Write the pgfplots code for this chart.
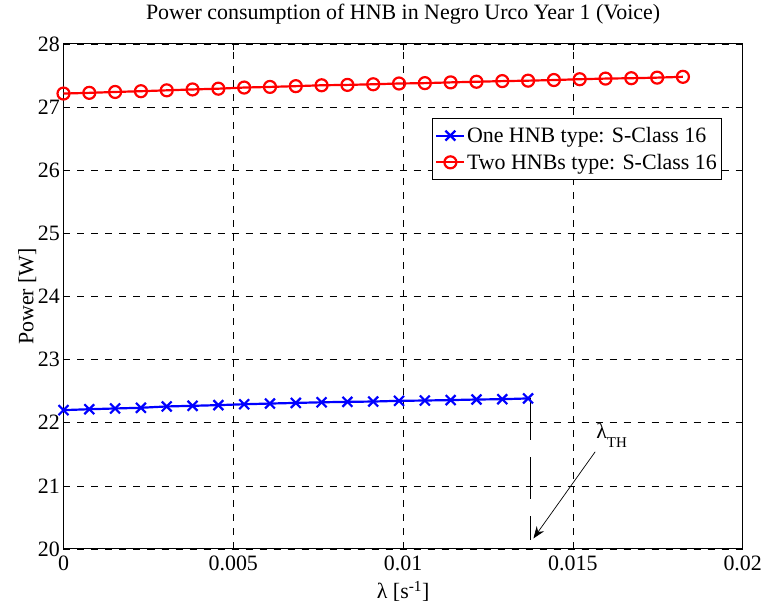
\documentclass[border=0pt]{standalone}
\usepackage{fontspec}
\setmainfont{Liberation Serif}
\usepackage{pgfplots}
\pgfplotsset{compat=1.18}
\usetikzlibrary{arrows.meta}
\definecolor{mblue}{RGB}{0,0,255}
\definecolor{mred}{RGB}{255,0,0}
\begin{document}
\begin{tikzpicture}[font=\fontsize{22}{26}\selectfont]
\begin{axis}[name=ax, scale only axis, width=679.2bp, height=505bp,
  xmin=0, xmax=0.02, ymin=20, ymax=28,
  scaled x ticks=false, scaled y ticks=false,
  xtick={0,0.005,0.01,0.015,0.02}, xticklabels={0,0.005,0.01,0.015,0.02},
  ytick={20,21,22,23,24,25,26,27,28},
  /pgf/number format/assume math mode=true,
  tick align=inside, major tick length=6bp,
  tick style={black, line width=0.6bp},
  axis line style={black, line width=1bp},
  grid=major,
  major grid style={black, line width=0.6bp, dash pattern=on 7bp off 7bp},
  xticklabel style={anchor=base, inner sep=0pt, yshift=-22bp},
  yticklabel style={anchor=east, inner sep=0pt, xshift=-3.5bp},
  title={Power consumption of HNB in Negro Urco Year 1 (Voice)},
  title style={at={(rel axis cs:0.5,1.0376)}, anchor=base, inner sep=0pt},
  xlabel={λ [s\textsuperscript{-1}]},
  xlabel style={at={(rel axis cs:0.5,-0.0990)}, anchor=base, inner sep=0pt},
  ylabel={Power [W]},
  ylabel style={at={(rel axis cs:-0.0442,0.5)}, anchor=base, inner sep=0pt},
  clip=false,
  legend cell align=left,
  legend style={at={(rel axis cs:0.9694,0.8529)}, anchor=north east,
    draw=black, line width=1bp, inner xsep=3bp, inner ysep=7bp,
    nodes={inner sep=1.5bp}, row sep=7bp},
  legend image code/.code={\draw[mark repeat=2,mark phase=2,#1]
    plot coordinates {(0bp,0bp) (14bp,0bp) (28bp,0bp)};},
]
\addplot[mblue, line width=2.2bp, mark=x, mark size=7bp,
  mark options={solid, line width=2.2bp}] coordinates {
(0,22.200) (0.00076,22.214) (0.00152,22.226) (0.00228,22.237) (0.00304,22.258)
(0.0038,22.268) (0.00456,22.279) (0.00532,22.293) (0.00608,22.304) (0.00684,22.314)
(0.0076,22.324) (0.00836,22.331) (0.00912,22.336) (0.00988,22.347) (0.01064,22.352)
(0.0114,22.359) (0.01216,22.368) (0.01292,22.373) (0.01368,22.385)
};
\addlegendentry{One HNB type: S-Class 16}
\addplot[mred, line width=2.2bp, mark=o, mark size=6bp,
  mark options={solid, line width=2.2bp}] coordinates {
(0,27.215) (0.00076,27.226) (0.00152,27.240) (0.00228,27.252) (0.00304,27.266)
(0.0038,27.280) (0.00456,27.292) (0.00532,27.310) (0.00608,27.320) (0.00684,27.332)
(0.0076,27.346) (0.00836,27.352) (0.00912,27.362) (0.00988,27.374) (0.01064,27.380)
(0.0114,27.392) (0.01216,27.402) (0.01292,27.412) (0.01368,27.419) (0.01444,27.429)
(0.0152,27.442) (0.01596,27.452) (0.01672,27.458) (0.01748,27.467) (0.01824,27.480)
};
\addlegendentry{Two HNBs type: S-Class 16}
\addplot[black, line width=0.8bp, dash pattern=on 42bp off 17bp, forget plot]
  coordinates {(0.01375,22.385) (0.01375,20.14)};
\draw[black, line width=0.7bp, -{Stealth[length=12bp,width=9bp,inset=4bp]}]
  (axis cs:0.015655,21.539) -- (axis cs:0.013838,20.167);
\node[anchor=base west, inner sep=0pt] at (axis cs:0.015685,21.756)
  {λ\raisebox{-9bp}{\fontsize{15}{15}\selectfont TH}};
\end{axis}
\pgfresetboundingbox
\path[use as bounding box] ([shift={(-63.5bp,-56bp)}]ax.south west) rectangle ([shift={(21.3bp,44bp)}]ax.north east);
\end{tikzpicture}
\end{document}
